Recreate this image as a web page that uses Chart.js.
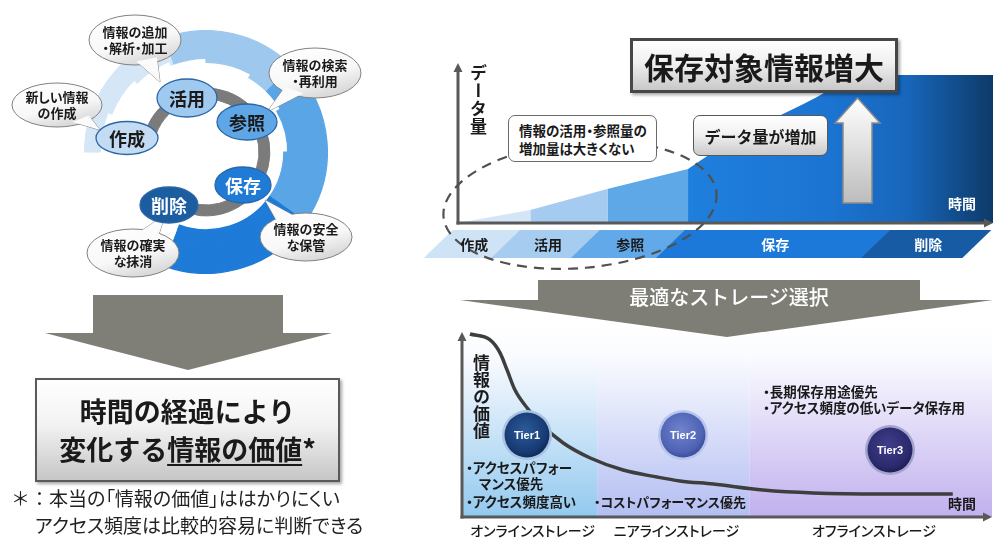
<!DOCTYPE html>
<html lang="ja"><head><meta charset="utf-8">
<script src="https://cdn.jsdelivr.net/npm/chart.js@4.4.1/dist/chart.umd.min.js"></script>
<style>
html,body{margin:0;padding:0;background:#fff;}
#stage{position:relative;width:996px;height:540px;overflow:hidden;font-family:"Noto Sans CJK JP","Noto Sans",sans-serif;color:#1a1a1a;}
#stage canvas{position:absolute;}
#deco{position:absolute;left:0;top:0;z-index:2;}
.t{position:absolute;white-space:nowrap;line-height:1;z-index:4;font-weight:700;}
.c{transform:translate(-50%,-50%);text-align:center;}
.box{position:absolute;box-sizing:border-box;z-index:3;display:flex;align-items:center;justify-content:center;font-weight:700;white-space:nowrap;}
.palt{font-feature-settings:"palt" 1;}
.nopalt{font-feature-settings:normal;}
.vert{writing-mode:vertical-rl;text-orientation:upright;}
.w{color:#fff;}
</style></head><body>
<div id="stage">
 <canvas id="cvRing" width="244" height="244" style="left:84px;top:30px;width:244px;height:244px"></canvas>
 <canvas id="cvVol" width="576" height="236" style="left:420px;top:30px;width:576px;height:236px"></canvas>
 <canvas id="cvVal" width="556" height="220" style="left:440px;top:320px;width:556px;height:220px"></canvas>

 <svg id="deco" width="996" height="540" viewBox="0 0 996 540">
  <defs>
   <linearGradient id="gBub" x1="0" y1="0" x2="0.5" y2="1"><stop offset="0" stop-color="#ffffff"/><stop offset="0.65" stop-color="#f8f8f8"/><stop offset="1" stop-color="#dadada"/></linearGradient>
   <linearGradient id="gUp" x1="0" y1="0" x2="0" y2="1"><stop offset="0" stop-color="#ffffff"/><stop offset="1" stop-color="#bcbcbc"/></linearGradient>
   <radialGradient id="gT1" cx="0.45" cy="0.4" r="0.6"><stop offset="0" stop-color="#2c5b9c"/><stop offset="0.8" stop-color="#173a72"/><stop offset="1" stop-color="#0f2b5a"/></radialGradient>
   <radialGradient id="gT2" cx="0.45" cy="0.4" r="0.6"><stop offset="0" stop-color="#6f83cf"/><stop offset="0.8" stop-color="#4f63b4"/><stop offset="1" stop-color="#3c4e9c"/></radialGradient>
   <radialGradient id="gT3" cx="0.45" cy="0.4" r="0.6"><stop offset="0" stop-color="#403f8c"/><stop offset="0.8" stop-color="#2b2a6c"/><stop offset="1" stop-color="#201f58"/></radialGradient>
  </defs>
  <polygon points="93,295 283,295 283,333 332,333 188,370 45,333 93,333" fill="#7f7f78"/>
  <polygon points="538,280 920,280 920,300 993,300 727,337 460,300 538,300" fill="#7e7e76"/>
  <ellipse cx="580" cy="205" rx="137" ry="63" transform="rotate(-5 580 205)" fill="none" stroke="#505050" stroke-width="2.2" stroke-dasharray="10 7"/>
  <polygon points="857.5,98 880,123 872,123 872,203 843,203 843,123 835,123" fill="url(#gUp)" stroke="#8a8a8a" stroke-width="1.5"/>
  <g id="bubbles"></g>
  <g stroke="#2b66a6" stroke-width="1.3">
   <ellipse cx="127" cy="138" rx="31" ry="16.5" fill="#c4dcf3"/>
   <ellipse cx="187" cy="98" rx="30" ry="19" fill="#9fc9ee"/>
   <ellipse cx="247" cy="122" rx="30" ry="18" fill="#5ea6e6"/>
   <ellipse cx="243" cy="185" rx="28" ry="18" fill="#1f7bd6"/>
   <ellipse cx="169" cy="205" rx="29" ry="18" fill="#1c5d9f"/>
  </g>
  <circle cx="527" cy="435" r="25" fill="#a9c2e2"/><circle cx="527" cy="435" r="22.5" fill="url(#gT1)"/>
  <circle cx="683" cy="435" r="25" fill="#b8c4ec"/><circle cx="683" cy="435" r="22.5" fill="url(#gT2)"/>
  <circle cx="890" cy="450" r="25" fill="#a3a3cf"/><circle cx="890" cy="450" r="22.5" fill="url(#gT3)"/>
 </svg>

 <!-- left: lifecycle -->
 <div class="t c palt" style="left:57px;top:105px;font-size:13px;line-height:16px;">新しい情報<br>の作成</div>
 <div class="t c palt" style="left:135px;top:40px;font-size:13px;line-height:16px;">情報の追加<br>・解析・加工</div>
 <div class="t c palt" style="left:315px;top:73px;font-size:13px;line-height:16px;">情報の検索<br>・再利用</div>
 <div class="t c palt" style="left:306px;top:237px;font-size:13px;line-height:16px;">情報の安全<br>な保管</div>
 <div class="t c palt" style="left:133px;top:253px;font-size:13px;line-height:16px;">情報の確実<br>な抹消</div>
 <div class="t c" style="left:127px;top:138px;font-size:18px;">作成</div>
 <div class="t c" style="left:187px;top:98px;font-size:18px;">活用</div>
 <div class="t c" style="left:247px;top:122px;font-size:18px;">参照</div>
 <div class="t c w" style="left:243px;top:185px;font-size:18px;">保存</div>
 <div class="t c w" style="left:169px;top:205px;font-size:18px;">削除</div>

 <div class="box" style="left:35px;top:378px;width:305px;height:104px;border:2.5px solid #5a5a5a;background:linear-gradient(#ffffff,#f2f2f2 45%,#c6c6c6);box-shadow:2px 2px 3px rgba(0,0,0,0.35);font-size:27px;line-height:38px;text-align:center;">
  <div>時間の経過により<br>変化する<span style="text-decoration:underline;text-decoration-thickness:2px;text-underline-offset:4px;">情報の価値</span>*</div>
 </div>
 <div class="t palt" style="left:11px;top:488px;font-size:19px;font-weight:400;color:#222;"><span class="nopalt">＊：</span>本当の「情報の価値」ははかりにくい</div>
 <div class="t palt" style="left:35px;top:515px;font-size:19px;font-weight:400;color:#222;">アクセス頻度は比較的容易に判断できる</div>

 <!-- right top -->
 <div class="box" style="left:630px;top:38px;width:268px;height:55px;border:3px solid #474747;background:linear-gradient(#ffffff,#f0f0f0 45%,#c8c8c8);box-shadow:2px 2px 3px rgba(0,0,0,0.35);font-size:30px;">保存対象情報増大</div>
 <div class="box" style="left:693px;top:115px;width:135px;height:41px;border:1.5px solid #595959;border-radius:7px;background:linear-gradient(#ffffff,#f2f2f2 45%,#cbcbcb);font-size:16px;">データ量が増加</div>
 <div class="box palt" style="left:508px;top:115px;width:149px;height:47px;border:1.5px solid #6a6a6a;border-radius:7px;background:#fff;font-size:13.5px;line-height:18px;justify-content:flex-start;padding-left:10px;">
  <div>情報の活用・参照量の<br>増加量は大きくない</div>
 </div>
 <div class="t vert" style="left:470px;top:64px;font-size:17px;letter-spacing:1px;">データ量</div>
 <div class="t w" style="left:948px;top:196px;font-size:14px;">時間</div>
 <div id="bandLabels"></div>
 <div class="t c w" style="left:729px;top:297px;font-size:20px;font-weight:500;">最適なストレージ選択</div>

 <!-- right bottom -->
 <div class="t vert" style="left:473px;top:354px;font-size:17px;">情報の価値</div>
 <div class="t c w" style="left:527px;top:435px;font-size:11px;font-family:'Liberation Sans',Arial,sans-serif;">Tier1</div>
 <div class="t c w" style="left:683px;top:435px;font-size:11px;font-family:'Liberation Sans',Arial,sans-serif;">Tier2</div>
 <div class="t c w" style="left:890px;top:450px;font-size:11px;font-family:'Liberation Sans',Arial,sans-serif;">Tier3</div>
 <div class="t palt" style="left:466px;top:461px;font-size:13.5px;">・アクセスパフォー</div>
 <div class="t palt" style="left:479px;top:477px;font-size:13.5px;">マンス優先</div>
 <div class="t palt" style="left:466px;top:495px;font-size:13.5px;">・アクセス頻度高い</div>
 <div class="t palt" style="left:594px;top:495px;font-size:13px;">・コストパフォーマンス優先</div>
 <div class="t palt" style="left:763px;top:385px;font-size:13.5px;">・長期保存用途優先</div>
 <div class="t palt" style="left:763px;top:401px;font-size:13.5px;">・アクセス頻度の低いデータ保存用</div>
 <div class="t" style="left:948px;top:496px;font-size:14px;">時間</div>
 <div id="storageLabels"></div>
</div>

<script>
// ================= DATA =================
// Lifecycle ring (left): stages and the angular span (degrees) of each coloured ring part
const lifecycleStages = ["作成", "活用", "参照", "保存", "削除"];
const ringStageSpanDeg = [70, 65, 80, 75];
const lifecycleGrayRing = [20, 280, 60];   // gap, inner cycle arc, gap (degrees)

// Data volume over time (top right)
const volumeTime   = [0, 13.5, 27.9, 43, 49.5, 56.4, 61.5, 67.1, 72.3, 77, 100];
const volumeAmount = [0, 8.1, 21.3, 33.8, 48.1, 61.3, 69.4, 78.8, 88.1, 92.5, 92.5];
const volumeAreaPhaseEnd = [13.5, 27.9, 43, 100];       // 作成, 活用, 参照, 保存
const phaseLabels = ["作成", "活用", "参照", "保存", "削除"];
const phaseBandStart = [-1, 11.6, 26.5, 42.4, 80.7];
const phaseBandEnd = 99.6;

// Value of information over time (bottom right)
const valueTime = [1.5, 5.3, 7.2, 8.5, 10, 12.3, 14.7, 19.1, 24.2, 30.4, 36.8, 41.1, 47.4, 56.8, 66.2, 78.9, 92.6];
const infoValue = [98.9, 95.7, 88.6, 79.5, 68.6, 58.9, 50.8, 40, 31.9, 25.4, 21.6, 19.5, 17.8, 14.6, 13, 12.4, 12.4];
const tierLabels = ["Tier1", "Tier2", "Tier3"];
const tierEnd = [25.5, 54.3, 100];
const storageLabels = ["オンラインストレージ", "ニアラインストレージ", "オフラインストレージ"];

// ================= STYLE =================
const ringColors = ["#d5e6f6", "#9ec8ee", "#5aa5e6", "#1e7bd7"];
const ringLayerStart = [0, 0, 0, 0, 22, 45, 68, 90, 120, 150, 180];
const areaColors = ["#d3e5f7", "#a5ccf0", "#5fa8e8"];
const bandColors = ["#cfe3f7", "#a6ccf0", "#62a9e9", "#1c79da", "#185ba5"];
const bandTextColors = ["#1a1a1a", "#1a1a1a", "#1a1a1a", "#ffffff", "#ffffff"];
const tierColors = ["#93c9ef", "#b3bef2", "#c1b0ee"];
const TR = 'rgba(0,0,0,0)';

// ================= speech bubbles (decoration) =================
(function(){
  const g = document.getElementById('bubbles');
  const list = [[57,105,45,22,100,130],[135,40,46,25,160,82],[315,73,46,25,267,112],[306,237,46,24,265,200],[133,253,46,24,165,215]];
  const ns = 'http://www.w3.org/2000/svg';
  list.forEach(([cx,cy,rx,ry,tx,ty]) => {
    const a = Math.atan2((ty-cy)/ry, (tx-cx)/rx);
    const p = d => [cx + rx*0.85*Math.cos(a+d), cy + ry*0.85*Math.sin(a+d)];
    const b1 = p(0.28), b2 = p(-0.28);
    const d = `M${b1[0]},${b1[1]} L${tx},${ty} L${b2[0]},${b2[1]} Z`;
    const t1 = document.createElementNS(ns,'path'); t1.setAttribute('d',d); t1.setAttribute('fill','#fff'); t1.setAttribute('stroke','#808080'); t1.setAttribute('stroke-width','1');
    const e = document.createElementNS(ns,'ellipse'); e.setAttribute('cx',cx); e.setAttribute('cy',cy); e.setAttribute('rx',rx); e.setAttribute('ry',ry); e.setAttribute('fill','url(#gBub)'); e.setAttribute('stroke','#808080'); e.setAttribute('stroke-width','1');
    const t2 = document.createElementNS(ns,'path'); t2.setAttribute('d',d); t2.setAttribute('fill','#fbfbfb');
    g.appendChild(t1); g.appendChild(e); g.appendChild(t2);
  });
})();

const baseOpts = {
  responsive: false, animation: false, events: [],
  plugins: { legend: { display: false }, tooltip: { enabled: false } }
};

// ================= Left: lifecycle ring =================
(function(){
  const ringEnd = ringStageSpanDeg.reduce((a,b)=>a+b, 0);
  const bounds = []; let acc = 0;
  ringStageSpanDeg.forEach(s => { bounds.push([acc, acc+s]); acc += s; });
  const datasets = ringLayerStart.map(s => {
    const data = [s], colors = [TR];
    bounds.forEach(([a,b],k) => { data.push(Math.max(0, b - Math.max(a, s))); colors.push(ringColors[k]); });
    data.push(360 - ringEnd); colors.push(TR);
    return { data, backgroundColor: colors, borderColor: colors, borderWidth: 1.2, weight: 4 };
  });
  datasets.push({ data: [360], backgroundColor: [TR], borderColor: [TR], borderWidth: 0, weight: 14 });
  datasets.push({ data: lifecycleGrayRing, backgroundColor: [TR, '#7b7b7b', TR], borderColor: [TR, '#7b7b7b', TR], borderWidth: 1, weight: 11 });
  new Chart(document.getElementById('cvRing'), {
    type: 'doughnut',
    data: { labels: ["", ...lifecycleStages.slice(0,4), ""], datasets },
    options: Object.assign({}, baseOpts, {
      rotation: 270, cutout: 53,
      layout: { padding: 0 },
      elements: { arc: { hoverBorderWidth: 0, hoverOffset: 0, offset: 0, spacing: 0, borderJoinStyle: 'miter' } }
    })
  });
})();

function drawArrowAxes(chart, color, width) {
  const { ctx, chartArea: ca } = chart;
  ctx.save();
  ctx.strokeStyle = color; ctx.fillStyle = color; ctx.lineWidth = width;
  ctx.beginPath(); ctx.moveTo(ca.left, ca.bottom + width/2); ctx.lineTo(ca.left, ca.top + 7); ctx.stroke();
  ctx.beginPath(); ctx.moveTo(ca.left, ca.top); ctx.lineTo(ca.left - 4.5, ca.top + 9); ctx.lineTo(ca.left + 4.5, ca.top + 9); ctx.closePath(); ctx.fill();
  ctx.beginPath(); ctx.moveTo(ca.left - width/2, ca.bottom); ctx.lineTo(ca.right - 7, ca.bottom); ctx.stroke();
  ctx.beginPath(); ctx.moveTo(ca.right, ca.bottom); ctx.lineTo(ca.right - 9, ca.bottom - 4.5); ctx.lineTo(ca.right - 9, ca.bottom + 4.5); ctx.closePath(); ctx.fill();
  ctx.restore();
}

// ================= Right top: data volume =================
(function(){
  const pts = volumeTime.map((t,i) => ({ x: t, y: volumeAmount[i] }));
  const datasets = volumeAreaPhaseEnd.map((end, k) => {
    const start = k ? volumeAreaPhaseEnd[k-1] : 0;
    const data = pts.filter(p => p.x >= start && p.x <= end);
    const ds = { label: phaseLabels[k], data, fill: 'origin', borderWidth: 0, pointRadius: 0, tension: 0 };
    if (k < 3) ds.backgroundColor = areaColors[k];
    else {
      ds.cubicInterpolationMode = 'monotone';
      ds.backgroundColor = (c) => {
        const ch = c.chart, ca = ch.chartArea;
        if (!ca) return '#1e7bd8';
        const x0 = ch.scales.x.getPixelForValue(start);
        const g = ch.ctx.createLinearGradient(x0, 0, ca.right, 0);
        g.addColorStop(0, '#1f7fdd'); g.addColorStop(0.45, '#1c74d2');
        g.addColorStop(0.72, '#1766bb'); g.addColorStop(1, '#0e3a68');
        return g;
      };
    }
    return ds;
  });
  const bandPlugin = {
    id: 'band',
    afterDraw(chart) {
      const { ctx, chartArea: ca, scales: { x } } = chart;
      const top = ca.bottom + 7, h = 28, slant = 29;
      phaseLabels.forEach((lab, k) => {
        const x0 = x.getPixelForValue(phaseBandStart[k]);
        const x1 = x.getPixelForValue(k < phaseLabels.length - 1 ? phaseBandStart[k+1] : phaseBandEnd);
        ctx.save();
        ctx.beginPath(); ctx.moveTo(x0, top); ctx.lineTo(x1 + 0.5, top); ctx.lineTo(x1 + 0.5 - slant, top + h); ctx.lineTo(x0 - slant, top + h); ctx.closePath();
        ctx.fillStyle = bandColors[k]; ctx.fill();
        ctx.restore();
      });
      drawArrowAxes(chart, '#595959', 3);
    }
  };
  const chart = new Chart(document.getElementById('cvVol'), {
    type: 'line',
    data: { datasets },
    options: Object.assign({}, baseOpts, {
      layout: { padding: { left: 38, right: 3, top: 33, bottom: 43 } },
      scales: { x: { type: 'linear', min: 0, max: 100, display: false }, y: { min: 0, max: 100, display: false } }
    }),
    plugins: [bandPlugin]
  });
  const holder = document.getElementById('bandLabels');
  const x = chart.scales.x, ca = chart.chartArea;
  phaseLabels.forEach((lab, k) => {
    const x0 = x.getPixelForValue(phaseBandStart[k]);
    const x1 = x.getPixelForValue(k < phaseLabels.length - 1 ? phaseBandStart[k+1] : phaseBandEnd);
    const d = document.createElement('div');
    d.className = 't c'; d.textContent = lab;
    d.style.left = (420 + (x0 + x1) / 2 - 12) + 'px';
    d.style.top = (30 + ca.bottom + 21) + 'px';
    d.style.fontSize = '14px'; d.style.color = bandTextColors[k];
    holder.appendChild(d);
  });
})();

// ================= Right bottom: value of information =================
(function(){
  const zonePlugin = {
    id: 'zones',
    beforeDatasetsDraw(chart) {
      const { ctx, chartArea: ca, scales: { x } } = chart;
      tierLabels.forEach((t, k) => {
        const x0 = x.getPixelForValue(k ? tierEnd[k-1] : 0), x1 = x.getPixelForValue(tierEnd[k]);
        const g = ctx.createLinearGradient(0, ca.top - 4, 0, ca.bottom);
        g.addColorStop(0, '#ffffff'); g.addColorStop(0.15, '#fafbff'); g.addColorStop(1, tierColors[k]);
        ctx.fillStyle = g; ctx.fillRect(x0, ca.top - 4, x1 - x0, ca.bottom - ca.top + 4);
      });
    },
    afterDatasetsDraw(chart) { drawArrowAxes(chart, '#595959', 3); }
  };
  const chart = new Chart(document.getElementById('cvVal'), {
    type: 'line',
    data: { datasets: [{ label: '情報の価値', data: valueTime.map((t,i) => ({ x: t, y: infoValue[i] })),
      borderColor: '#3e3e3e', borderWidth: 3.5, pointRadius: 0, fill: false, cubicInterpolationMode: 'monotone' }] },
    options: Object.assign({}, baseOpts, {
      layout: { padding: { left: 22, right: 4, top: 12, bottom: 23 } },
      scales: { x: { type: 'linear', min: 0, max: 100, display: false }, y: { min: 0, max: 100, display: false } }
    }),
    plugins: [zonePlugin]
  });
  const holder = document.getElementById('storageLabels');
  const x = chart.scales.x, ca = chart.chartArea;
  storageLabels.forEach((lab, k) => {
    const x0 = x.getPixelForValue(k ? tierEnd[k-1] : 0), x1 = x.getPixelForValue(tierEnd[k]);
    const d = document.createElement('div');
    d.className = 't c palt'; d.textContent = lab;
    d.style.left = (440 + (x0 + x1) / 2 + 3) + 'px';
    d.style.top = (320 + ca.bottom + 13) + 'px';
    d.style.fontSize = '14px'; d.style.fontWeight = '500';
    holder.appendChild(d);
  });
})();
</script>
</body></html>
